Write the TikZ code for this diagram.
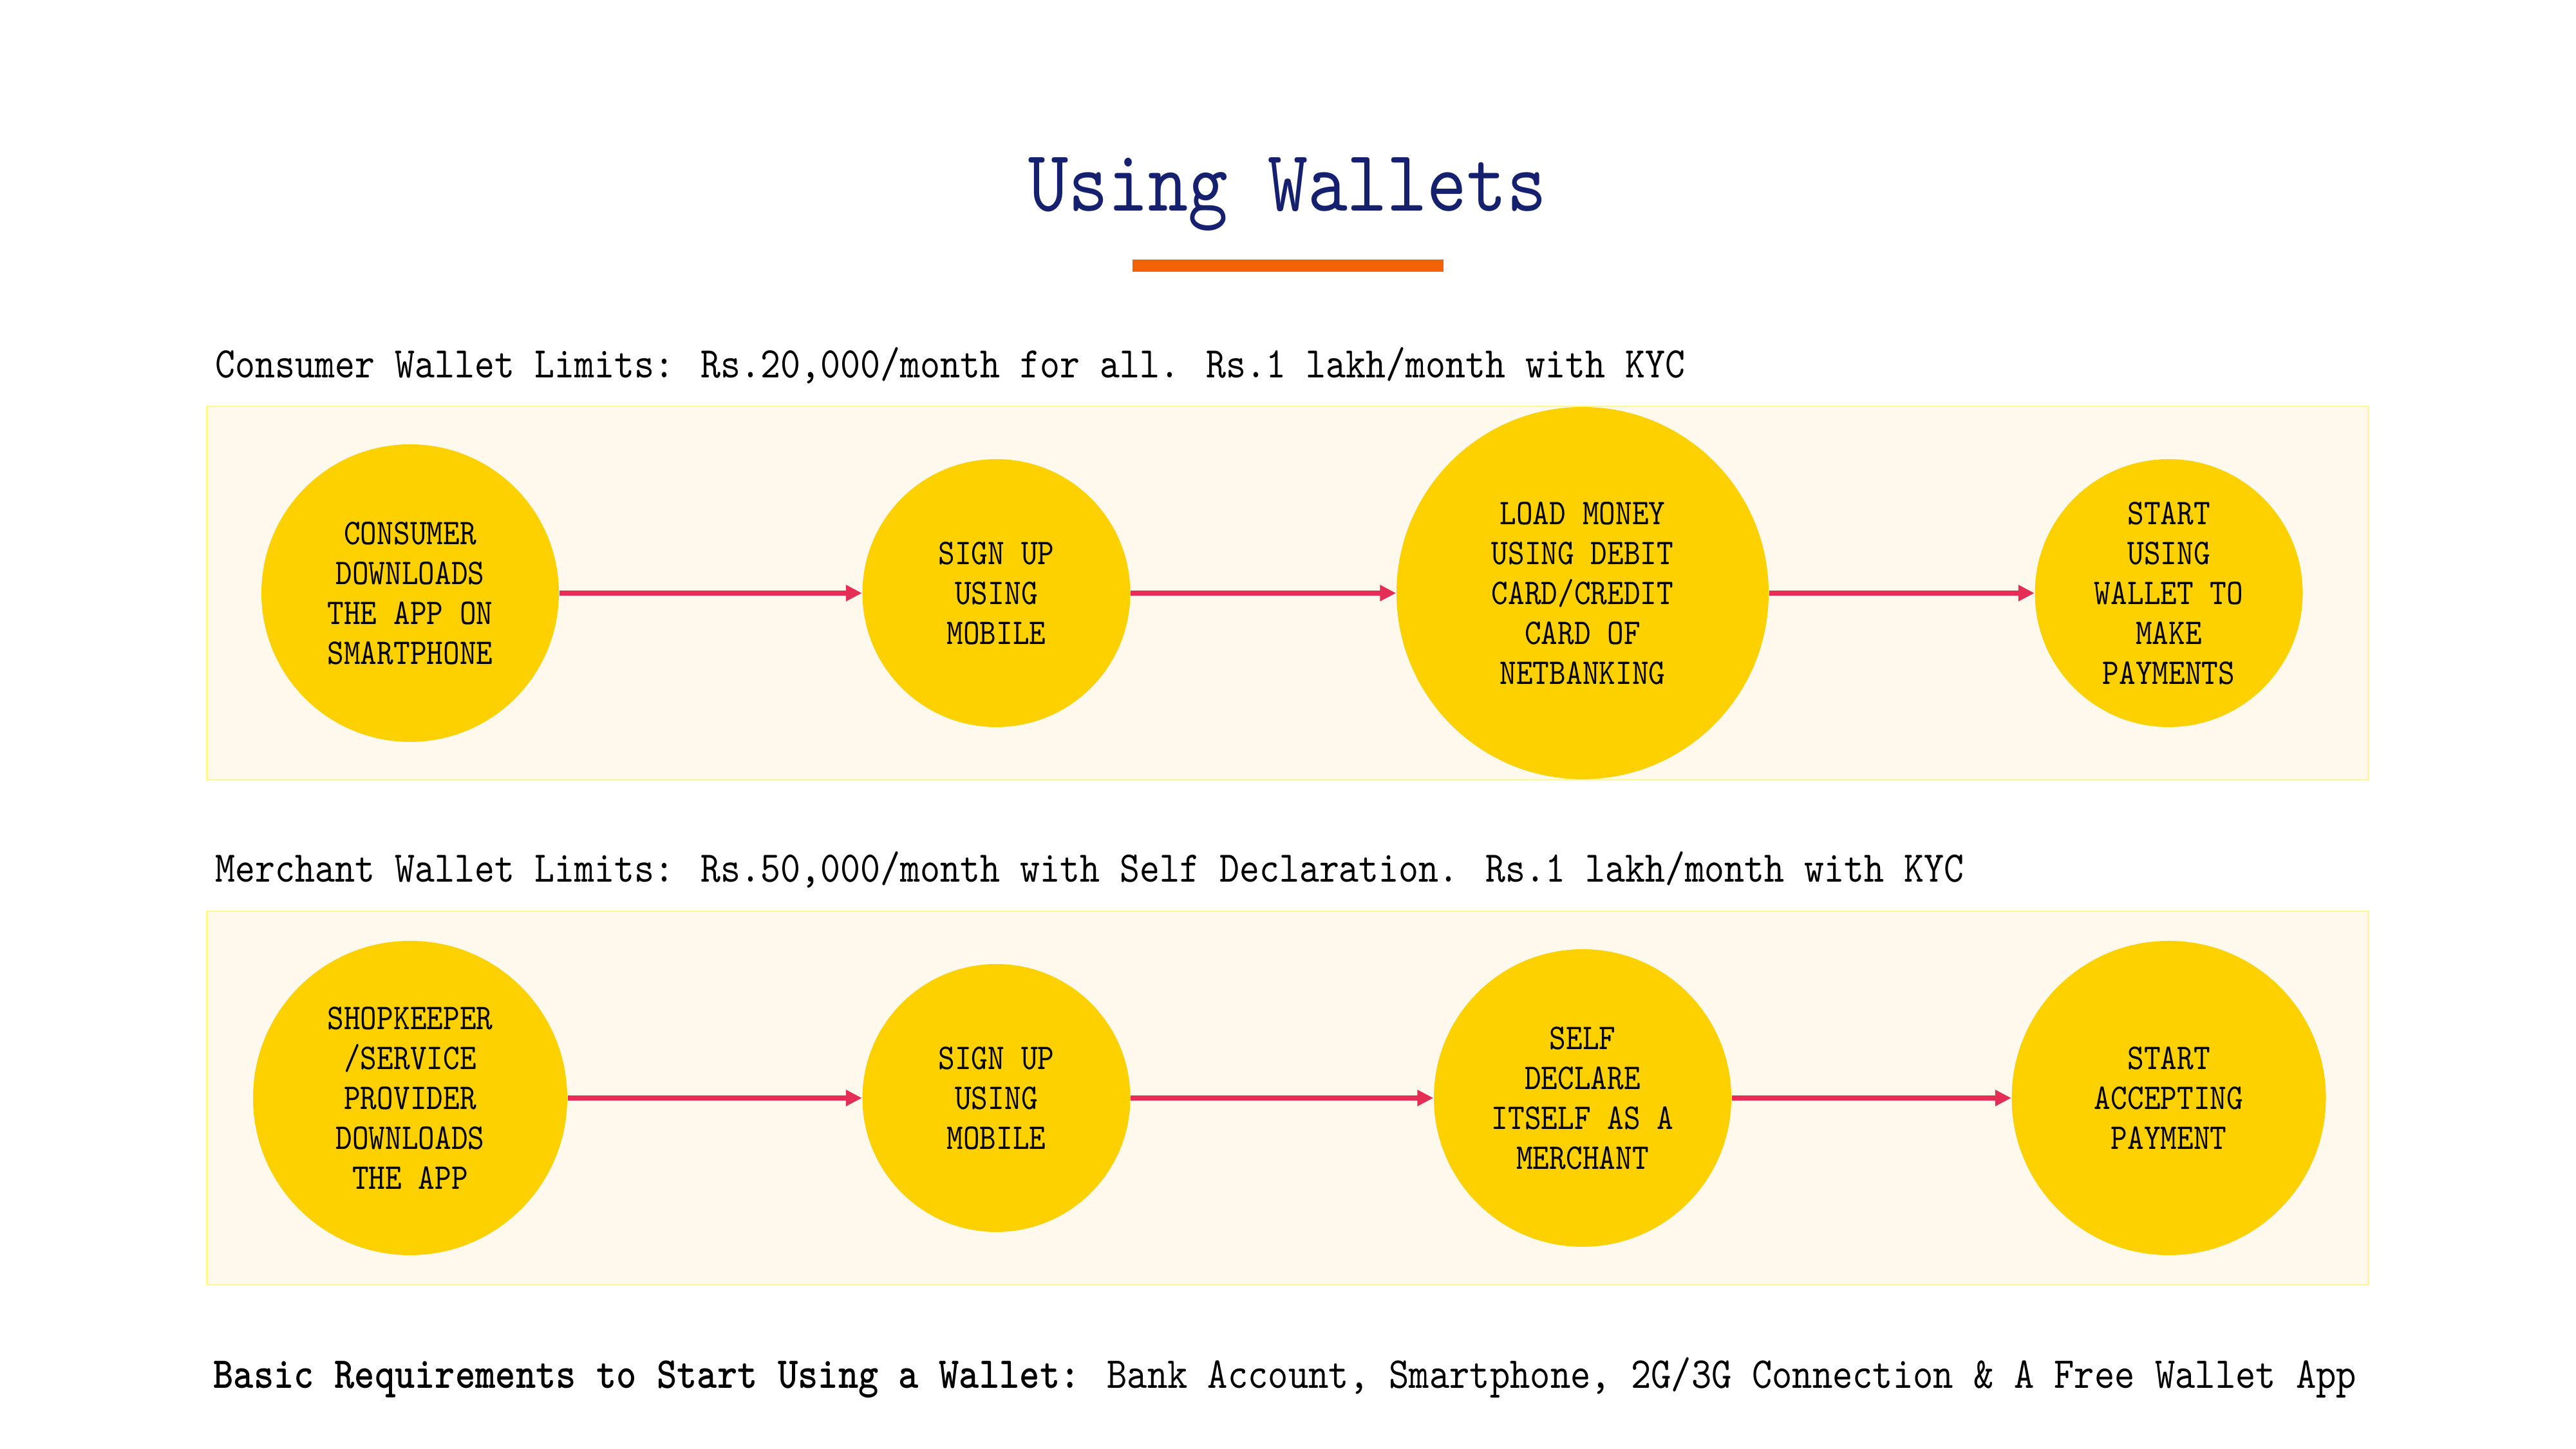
\documentclass[tikz,border=0pt]{standalone}
\usepackage{fontspec}
\setmainfont{lmmono10-regular.otf}[BoldFont=lmmonolt10-bold.otf, FakeStretch=0.87]
\usetikzlibrary{positioning, arrows.meta}

\definecolor{titleblue}{HTML}{15216E}
\definecolor{barorange}{HTML}{F26309}
\definecolor{panelfill}{HTML}{FEF9EC}
\definecolor{panelline}{HTML}{FFF78F}
\definecolor{stagefill}{HTML}{FDD000}
\definecolor{flowred}{HTML}{E52E55}

\begin{document}
\begin{tikzpicture}[
    % Block styles
    panel/.style={
      rectangle, draw=panelline, fill=panelfill, line width=0.6pt,
      minimum width=33.57cm, minimum height=5.8cm
    },
    stage/.style={
      circle, fill=stagefill, inner sep=0pt,
      font=\fontsize{16}{17.64}\selectfont, align=center
    },
    heading/.style={
      anchor=base west, inner sep=0pt,
      font=\fontsize{19.3}{24}\selectfont
    },
    flow/.style={
      draw=flowred, line width=2.45pt,
      -{Triangle[length=0.25cm, width=0.24cm]}
    },
    node distance=9.105cm, on grid,
  ]
  \useasboundingbox (0,0) rectangle (40.01,22.5);

  % === Title ===
  \node[anchor=base, inner sep=0pt, text=titleblue,
    font=\fontsize{38.6}{46}\selectfont] (title) at (20,19.22) {Using Wallets};
  \node[rectangle, fill=barorange, minimum width=4.83cm, minimum height=0.19cm,
    inner sep=0pt, below=0.745cm of title.base] (bar) {};

  % === Consumer wallet row ===
  \coordinate (crow) at (6.37,13.29);
  \node[panel] (cpanel) at (title |- crow) {};
  \node[heading] (chead) at ([xshift=0.135cm, yshift=0.43cm]cpanel.north west)
    {Consumer Wallet Limits: Rs.20,000/month for all. Rs.1 lakh/month with KYC};

  \node[stage, minimum size=4.62cm] (c1) at (crow) {CONSUMER\\DOWNLOADS\\THE APP ON\\SMARTPHONE};
  \node[stage, minimum size=4.16cm, right=of c1] (c2) {SIGN UP\\USING\\MOBILE};
  \node[stage, minimum size=5.78cm, right=of c2] (c3) {LOAD MONEY\\USING DEBIT\\CARD/CREDIT\\CARD OF\\NETBANKING};
  \node[stage, minimum size=4.16cm, right=of c3] (c4) {START\\USING\\WALLET TO\\MAKE\\PAYMENTS};

  \draw[flow] (c1) -- (c2);
  \draw[flow] (c2) -- (c3);
  \draw[flow] (c3) -- (c4);

  % === Merchant wallet row ===
  \coordinate[below=7.84cm of crow] (mrow);
  \node[panel] (mpanel) at (title |- mrow) {};
  \node[heading] (mhead) at ([xshift=0.135cm, yshift=0.44cm]mpanel.north west)
    {Merchant Wallet Limits: Rs.50,000/month with Self Declaration. Rs.1 lakh/month with KYC};

  \node[stage, minimum size=4.88cm] (m1) at (mrow) {SHOPKEEPER\\/SERVICE\\PROVIDER\\DOWNLOADS\\THE APP};
  \node[stage, minimum size=4.16cm, right=of m1] (m2) {SIGN UP\\USING\\MOBILE};
  \node[stage, minimum size=4.62cm, right=of m2] (m3) {SELF\\DECLARE\\ITSELF AS A\\MERCHANT};
  \node[stage, minimum size=4.88cm, right=of m3] (m4) {START\\ACCEPTING\\PAYMENT};

  \draw[flow] (m1) -- (m2);
  \draw[flow] (m2) -- (m3);
  \draw[flow] (m3) -- (m4);

  % === Requirements ===
  \node[heading, font=\fontsize{19.5}{24}\selectfont] (req) at ([xshift=0.105cm, yshift=-1.59cm]mpanel.south west)
    {\textbf{Basic Requirements to Start Using a Wallet:} Bank Account, Smartphone, 2G/3G Connection \& A Free Wallet App};

\end{tikzpicture}
\end{document}
